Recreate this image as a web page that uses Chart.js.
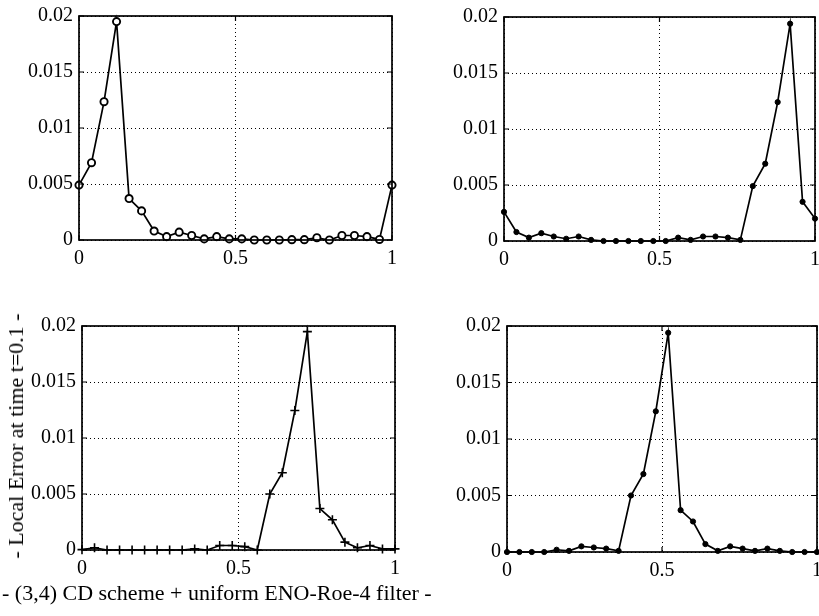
<!DOCTYPE html>
<html><head><meta charset="utf-8">
<script src="https://cdn.jsdelivr.net/npm/chart.js@4.4.1/dist/chart.umd.min.js"></script>
<style>
html,body{margin:0;padding:0;width:819px;height:616px;overflow:hidden;background:#fff;}
canvas{position:absolute;}
.t{position:absolute;font-family:'Liberation Serif','Times New Roman',serif;font-size:22px;line-height:24px;color:#000;white-space:nowrap;}
#ylab{left:16px;top:436px;transform:translate(-50%,-50%) rotate(-90deg);}
#xlab{left:2px;top:581px;}
</style></head><body>
<canvas id="c1"></canvas>
<canvas id="c2"></canvas>
<canvas id="c3"></canvas>
<canvas id="c4"></canvas>
<div class="t" id="ylab">- Local Error at time t=0.1 -</div>
<div class="t" id="xlab">- (3,4) CD scheme + uniform ENO-Roe-4 filter -</div>
<script>
const xPositions = [0,0.04,0.08,0.12,0.16,0.20,0.24,0.28,0.32,0.36,0.40,0.44,0.48,0.52,0.56,0.60,0.64,0.68,0.72,0.76,0.80,0.84,0.88,0.92,0.96,1.00];
const errorPanel1 = [0.0049,0.0069,0.01235,0.0195,0.0037,0.0026,0.0008,0.0003,0.0007,0.0004,0.0001,0.0003,0.0001,0.0001,0,0,0,0.00003,0.00003,0.0002,0,0.0004,0.0004,0.0003,0.00005,0.0049];
const errorPanel2 = [0.0026,0.0008,0.0003,0.0007,0.0004,0.0002,0.0004,0.0001,0,0,0,0,0,0,0.0003,0.0001,0.0004,0.0004,0.0003,0.0001,0.0049,0.0069,0.0124,0.0194,0.0035,0.0020];
const errorPanel3 = [0.00003,0.0002,0,0,0,0,0,0,0,0.0001,0,0.0004,0.0004,0.0003,0,0.0050,0.0069,0.01245,0.0195,0.0037,0.0027,0.0007,0.0002,0.0004,0.0001,0.0001];
const errorPanel4 = [0,0,0,0,0.0002,0.0001,0.0005,0.0004,0.0003,0.0001,0.0050,0.0069,0.01245,0.0194,0.0037,0.0027,0.0007,0.0001,0.0005,0.0003,0.0001,0.0003,0.0001,0,0,0];
const yTickLabels = ['0','0.005','0.01','0.015','0.02'];
const xTickLabels = ['0','0.5','1'];

Chart.defaults.font.family = "'Liberation Serif','Times New Roman',serif";
Chart.defaults.font.size = 20;
Chart.defaults.color = '#000';

const YW = 75, XH = 40, PT = 12, PR = 12, TICK = 5;

const boxPlugin = {
  id: 'box',
  afterDraw(chart) {
    const a = chart.chartArea, ctx = chart.ctx;
    ctx.save();
    ctx.strokeStyle = '#000';
    ctx.lineWidth = 1.2;
    ctx.beginPath();
    chart.scales.y.ticks.forEach(t => {
      const y = chart.scales.y.getPixelForValue(t.value);
      ctx.moveTo(a.left, y); ctx.lineTo(a.left + TICK, y);
      ctx.moveTo(a.right, y); ctx.lineTo(a.right - TICK, y);
    });
    chart.scales.x.ticks.forEach(t => {
      const x = chart.scales.x.getPixelForValue(t.value);
      ctx.moveTo(x, a.bottom); ctx.lineTo(x, a.bottom - TICK);
      ctx.moveTo(x, a.top); ctx.lineTo(x, a.top + TICK);
    });
    ctx.stroke();
    ctx.lineWidth = 1.7;
    ctx.strokeRect(a.left, a.top, a.right - a.left, a.bottom - a.top);
    ctx.restore();
  }
};

const panels = [
  {id:'c1', L:79, R:392, T:16, B:240, data:errorPanel1, style:'circle', radius:3.6, bg:'#fff', bw:1.9},
  {id:'c2', L:504, R:815, T:17, B:241, data:errorPanel2, style:'circle', radius:2.6, bg:'#000', bw:1},
  {id:'c3', L:82, R:395, T:326, B:550, data:errorPanel3, style:'cross', radius:4.5, bg:'#000', bw:1.6},
  {id:'c4', L:507, R:817, T:326, B:552, data:errorPanel4, style:'circle', radius:2.6, bg:'#000', bw:1}
];

panels.forEach(p => {
  const cv = document.getElementById(p.id);
  const w = (p.R - p.L) + YW + PR, h = (p.B - p.T) + PT + XH;
  cv.width = w; cv.height = h;
  cv.style.left = (p.L - YW) + 'px';
  cv.style.top = (p.T - PT) + 'px';
  cv.style.width = w + 'px'; cv.style.height = h + 'px';
  new Chart(cv, {
    type: 'line',
    data: {
      datasets: [{
        data: xPositions.map((x, i) => ({x: x, y: p.data[i]})),
        borderColor: '#000',
        borderWidth: 1.7,
        pointStyle: p.style,
        pointRadius: p.radius,
        pointBackgroundColor: p.bg,
        pointBorderColor: '#000',
        pointBorderWidth: p.bw,
        tension: 0,
        clip: false
      }]
    },
    options: {
      responsive: false,
      animation: false,
      events: [],
      layout: {padding: {left: 0, top: PT, right: PR, bottom: 0}},
      plugins: {legend: {display: false}, tooltip: {enabled: false}},
      scales: {
        x: {
          type: 'linear', min: 0, max: 1,
          ticks: {stepSize: 0.5, padding: 7, maxRotation: 0,
            callback: (v, i) => xTickLabels[i]},
          grid: {color: '#000', lineWidth: 1, drawTicks: false},
          border: {display: false, dash: [1, 3]},
          afterFit: s => { s.height = XH; s.paddingLeft = 0; s.paddingRight = 0; }
        },
        y: {
          min: 0, max: 0.02,
          ticks: {stepSize: 0.005, padding: 6,
            callback: (v, i) => yTickLabels[i]},
          grid: {color: '#000', lineWidth: 1, drawTicks: false},
          border: {display: false, dash: [1, 3]},
          afterFit: s => { s.width = YW; s.paddingTop = 0; s.paddingBottom = 0; }
        }
      }
    },
    plugins: [boxPlugin]
  });
});
</script>
</body></html>
